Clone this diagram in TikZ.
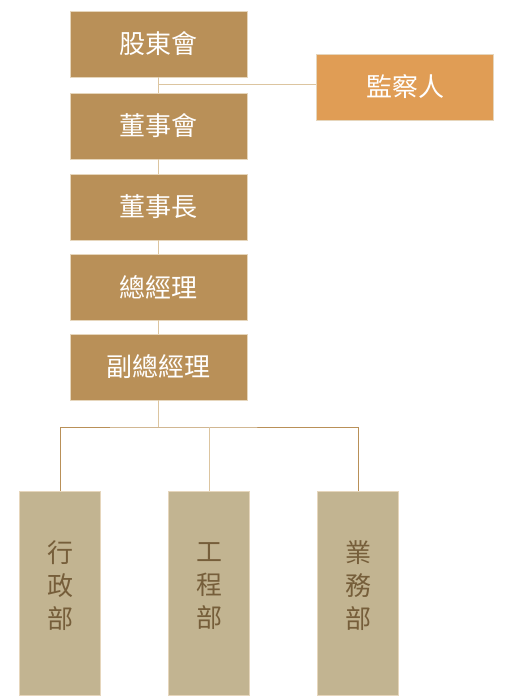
\documentclass[tikz,border=0pt]{standalone}
\usepackage{fontspec}
\setmainfont{Noto Sans CJK TC}
\usepackage{tikz}

\definecolor{boxgold}{HTML}{B99058}
\definecolor{boxorange}{HTML}{E09D55}
\definecolor{boxsand}{HTML}{C2B491}
\definecolor{textbrown}{HTML}{765E3A}
\definecolor{edgelight}{HTML}{E6D6BC}
\definecolor{linelight}{HTML}{DCC5A0}

\tikzset{
  x=1pt, y=-1pt,
  topbox/.style={draw=edgelight, line width=0.8pt, fill=boxgold, text=white,
    minimum width=177pt, minimum height=66pt, inner sep=0pt,
    font=\fontsize{26}{30}\selectfont},
  sidebox/.style={topbox, fill=boxorange},
  deptbox/.style={draw=edgelight, line width=0.8pt, fill=boxsand,
    minimum width=81pt, minimum height=204pt, inner sep=0pt},
  depttext/.style={text=textbrown, align=center, inner sep=0pt, yshift=7pt,
    font=\fontsize{26}{33}\selectfont},
  link/.style={draw=linelight, line width=1pt},
  branch/.style={draw=boxgold, line width=1pt}
}

\begin{document}
\begin{tikzpicture}
    \useasboundingbox (0, 0) rectangle (506, 700);

    \node[topbox] (GUDONG) at (158.5, 44) {股東會};
    \node[topbox] (DONGSHI) at (158.5, 126) {董事會};
    \node[topbox] (DONGSHIZHANG) at (158.5, 207) {董事長};
    \node[topbox] (ZONGJINGLI) at (158.5, 287) {總經理};
    \node[topbox] (FUZONG) at (158.5, 367) {副總經理};
    \node[sidebox] (JIANCHA) at (405, 87) {監察人};

    \node[deptbox, label={[depttext]center:行\\政\\部}] (XINGZHENG) at (60, 593) {};
    \node[deptbox, label={[depttext]center:工\\程\\部}] (GONGCHENG) at (209, 593) {};
    \node[deptbox, label={[depttext]center:業\\務\\部}] (YEWU) at (358, 593) {};

    \draw[link] (GUDONG) -- (DONGSHI);
    \draw[link] (DONGSHI) -- (DONGSHIZHANG);
    \draw[link] (DONGSHIZHANG) -- (ZONGJINGLI);
    \draw[link] (ZONGJINGLI) -- (FUZONG);

    \coordinate (JOIN) at (158.5, 85);
    \draw[link] (JOIN) -- (JOIN -| JIANCHA.west);

    \coordinate (SPLIT) at (158.5, 427);
    \draw[link] (FUZONG) -- (SPLIT);
    \draw[branch] (XINGZHENG.north) |- (SPLIT) -| (YEWU.north);
    \draw[link] (GONGCHENG.north) -- (GONGCHENG.north |- SPLIT);
  \end{tikzpicture}
\end{document}
